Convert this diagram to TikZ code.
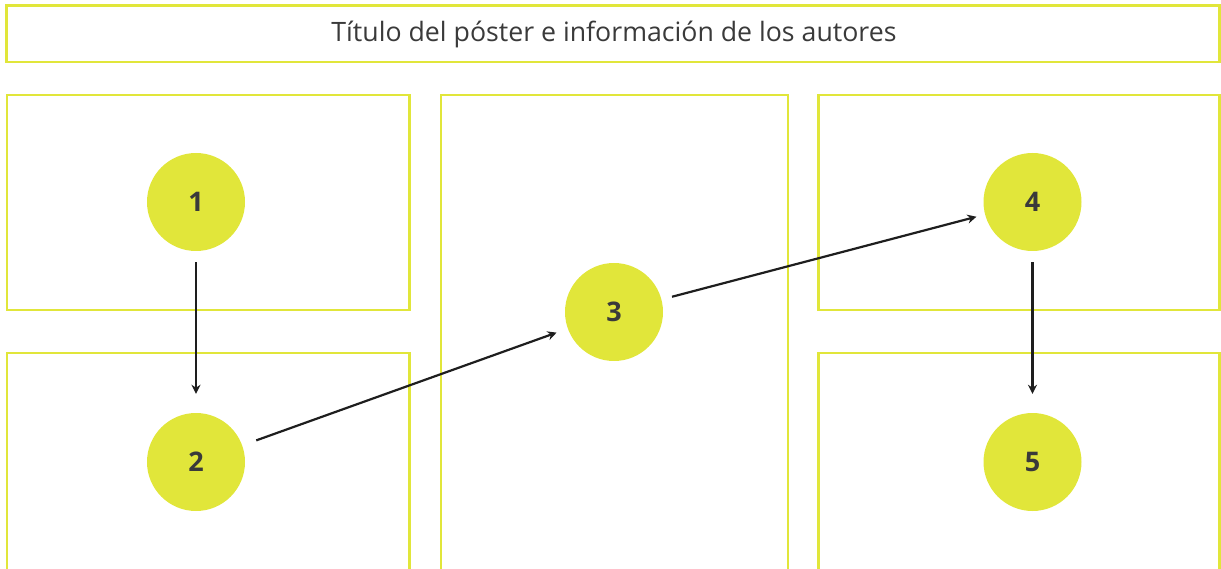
\documentclass[tikz,border=0pt]{standalone}
\usepackage{fontspec}
\setmainfont{Open Sans}
\usetikzlibrary{arrows.meta,calc}
\definecolor{ylw}{HTML}{E1E63A}
\definecolor{txt}{HTML}{3A3A3A}
\definecolor{arr}{HTML}{1E1E1E}
\begin{document}
\begin{tikzpicture}[x=1pt,y=-1pt,
  panel/.style={draw=ylw,line width=2.5pt},
  num/.style={circle,fill=ylw,minimum size=98pt,inner sep=0pt,text=txt,font=\fontsize{27}{27}\selectfont\bfseries},
  link/.style={draw=arr,line width=2.2pt,-{Stealth[length=9pt,width=9pt]}}]
\useasboundingbox (0,0) rectangle (1221,569);
\draw[panel] (6.5,5.5) rectangle (1219.5,62);
\node[text=txt,font=\fontsize{26.7}{27}\selectfont] (title) at (614,34.5) {Título del póster e información de los autores};
\draw[panel] (7,95) rectangle (409.5,310);
\draw[panel] (7,353) rectangle (409.5,575);
\draw[panel] (441,95) rectangle (788,575);
\draw[panel] (818.5,95) rectangle (1219.5,310);
\draw[panel] (818.5,353) rectangle (1219.5,575);
\node[num] (n1) at (196,202) {1};
\node[num] (n2) at (196,462) {2};
\node[num] (n3) at (614,312) {3};
\node[num] (n4) at (1032.5,202) {4};
\node[num] (n5) at (1032.5,462) {5};
\draw[link] ([yshift=-11pt]n1.south) -- ([yshift=19pt]n2.north);
\draw[link] ($(n2)!64pt!(n3)$) -- ($(n3)!61pt!(n2)$);
\draw[link] ($(n3)!60pt!(n4)$) -- ($(n4)!58pt!(n3)$);
\draw[link] ([yshift=-11pt]n4.south) -- ([yshift=19pt]n5.north);
\end{tikzpicture}
\end{document}
